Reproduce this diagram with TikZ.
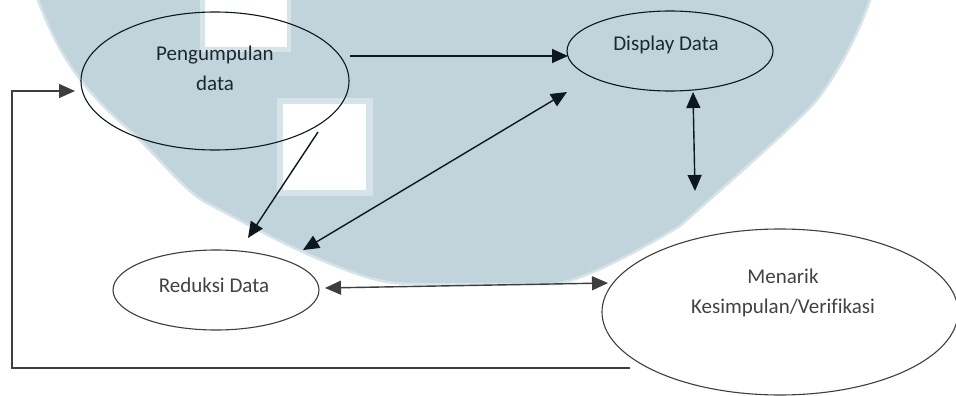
\documentclass[tikz,border=0pt]{standalone}
\usepackage{fontspec}
\setmainfont{Carlito}[Ligatures=NoCommon]
\usetikzlibrary{arrows.meta,shapes.geometric}
\definecolor{wm}{RGB}{193,212,219}
\definecolor{wmedge}{RGB}{214,227,232}
\definecolor{ink}{RGB}{12,24,30}
\definecolor{gry}{RGB}{62,62,62}
\definecolor{txtb}{RGB}{28,40,46}
\definecolor{txtg}{RGB}{66,66,66}
\tikzset{
  oval/.style={ellipse, draw=#1, line width=1.1pt, inner sep=0pt},
  lbl/.style={font=\fontsize{21}{30}\selectfont, align=center, inner sep=0pt, text=#1},
  conn/.style={draw=#1, line width=1.4pt},
  tip/.style={-{Triangle[length=16pt,width=14pt]}},
  dtip/.style={{Triangle[length=16pt,width=14pt]}-{Triangle[length=16pt,width=14pt]}}
}
\begin{document}
\begin{tikzpicture}[x=1pt,y=-1pt]
\useasboundingbox (0,0) rectangle (956,396);
\fill[white] (0,0) rectangle (956,396);
% watermark
\path[fill=wm, draw=wmedge, line width=2.5pt]
  (36,-6) -- (38,0) .. controls (55,45) and (75,85) .. (133,133)
  .. controls (165,165) and (185,190) .. (205,202)
  .. controls (240,220) and (300,255) .. (363,276)
  .. controls (385,283) and (400,284) .. (420,284)
  -- (555,284)
  .. controls (585,280) and (640,250) .. (680,226)
  .. controls (720,190) and (790,130) .. (817,100)
  .. controls (840,70) and (860,30) .. (870,0) -- (872,-6) -- cycle;
\fill[wmedge] (200,-2) rectangle (291,52);
\fill[white] (205,-2) rectangle (287,47);
\fill[wmedge] (277,98) rectangle (373,196);
\fill[white] (283,104) rectangle (366,190);
% ellipses
\node[oval=ink, minimum width=268pt, minimum height=138pt] (pd) at (215,81) {};
\node[oval=ink, minimum width=206pt, minimum height=80pt] (dd) at (670,51) {};
\node[oval=gry, minimum width=206pt, minimum height=80pt] (rd) at (216,290) {};
\node[oval=gry, minimum width=356pt, minimum height=166pt] (mk) at (780,312) {};
% labels
\node[lbl=txtb] (pdt) at (215,68) {Pengumpulan\\data};
\node[lbl=txtb, anchor=base] (ddt) at (666,51) {Display Data};
\node[lbl=txtg, anchor=base] (rdt) at (214,292) {Reduksi Data};
\node[lbl=txtg] (mkt) at (783,293) {Menarik\\Kesimpulan/Verifikasi};
% connector end points
\coordinate (pdR) at (350,56);
\coordinate (ddL) at (568,56);
\coordinate (pdB) at (318,132);
\coordinate (rdT) at (248,238);
\coordinate (rdTR) at (303,250);
\coordinate (ddBL) at (567,92);
\coordinate (ddB) at (693,92);
\coordinate (mkT) at (695,191);
\coordinate (rdR) at (325,288);
\coordinate (mkL) at (608,283);
\coordinate (mkBL) at (630,368);
\coordinate (lpA) at (12,368);
\coordinate (lpB) at (12,91);
\coordinate (pdL) at (75,91);
% connectors
\draw[conn=ink, tip] (pdR) -- (ddL);
\draw[conn=ink, tip] (pdB) -- (rdT);
\draw[conn=ink, dtip] (rdTR) -- (ddBL);
\draw[conn=ink, dtip] (ddB) -- (mkT);
\draw[conn=gry, dtip] (rdR) -- (mkL);
\draw[conn=gry, tip] (mkBL) -- (lpA) -- (lpB) -- (pdL);
\end{tikzpicture}
\end{document}
